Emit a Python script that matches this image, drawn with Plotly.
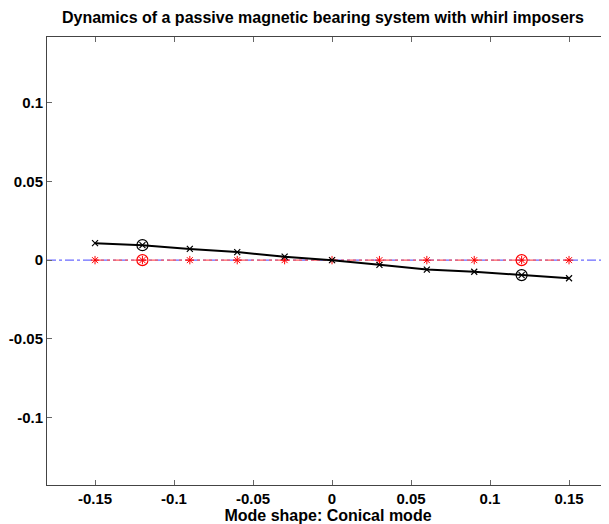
import plotly.graph_objects as go

x_nodes = [-0.15, -0.12, -0.09, -0.06, -0.03, 0.0, 0.03, 0.06, 0.09, 0.12, 0.15]
y_mode = [0.0108, 0.0095, 0.0071, 0.0051, 0.0022, 0.0, -0.0030, -0.0060, -0.0074, -0.0095, -0.0115]
y_ref = [0.0] * len(x_nodes)
x_bearing = [-0.12, 0.12]
y_bearing_mode = [0.0095, -0.0095]
y_bearing_ref = [0.0, 0.0]
x_axis_line = [-0.1804, 0.1753]
y_axis_line = [0.0, 0.0]

xticks = [-0.15, -0.1, -0.05, 0, 0.05, 0.1, 0.15]
xticklabels = ["-0.15", "-0.1", "-0.05", "0", "0.05", "0.1", "0.15"]
yticks = [-0.1, -0.05, 0, 0.05, 0.1]
yticklabels = ["-0.1", "-0.05", "0", "0.05", "0.1"]

fig = go.Figure()
fig.add_trace(go.Scatter(x=x_axis_line, y=y_axis_line, mode="lines",
                         line=dict(color="#6a6aff", width=1.2, dash="dashdot")))
fig.add_trace(go.Scatter(x=x_nodes, y=y_ref, mode="lines+markers",
                         line=dict(color="#ff5a5a", width=1.2, dash="dashdot"),
                         marker=dict(symbol="asterisk-open", size=7, color="red",
                                     line=dict(color="red", width=1))))
fig.add_trace(go.Scatter(x=x_bearing, y=y_bearing_ref, mode="markers",
                         marker=dict(symbol="circle-open", size=11, color="red",
                                     line=dict(color="red", width=1.2))))
fig.add_trace(go.Scatter(x=x_nodes, y=y_mode, mode="lines+markers",
                         line=dict(color="black", width=2),
                         marker=dict(symbol="x-thin-open", size=6, color="black",
                                     line=dict(color="black", width=1.2))))
fig.add_trace(go.Scatter(x=x_bearing, y=y_bearing_mode, mode="markers",
                         marker=dict(symbol="circle-open", size=11, color="black",
                                     line=dict(color="black", width=1.2))))

font_family = "Liberation Sans, Arial, sans-serif"
# page has an 8px body margin: figure is 601x516 placed at (8, 8)
fig.update_layout(
    width=601, height=516,
    margin=dict(l=39, r=0, t=29, b=39, autoexpand=False),
    paper_bgcolor="white", plot_bgcolor="white",
    showlegend=False,
    font=dict(family=font_family, color="black"),
    title=dict(text="<b>Dynamics of a passive magnetic bearing system with whirl imposers</b>",
               x=0.524, xanchor="center", y=0.981, yanchor="middle",
               font=dict(size=16, family=font_family, color="black")),
)
fig.update_xaxes(range=x_axis_line, tickvals=xticks,
                 ticktext=["<b>%s</b>" % t for t in xticklabels],
                 ticks="inside", ticklen=5, tickcolor="#666", tickwidth=1,
                 showline=True, linecolor="#444", linewidth=1, mirror="ticks",
                 showgrid=False, zeroline=False, automargin=False,
                 tickfont=dict(size=15, family=font_family, color="black"),
                 title=dict(text="<b>Mode shape: Conical mode</b>", standoff=0,
                            font=dict(size=16, family=font_family, color="black")))
fig.update_yaxes(range=[-0.1428, 0.1417], tickvals=yticks,
                 ticktext=["<b>%s</b>" % t for t in yticklabels],
                 ticks="inside", ticklen=5, tickcolor="#666", tickwidth=1,
                 showline=True, linecolor="#444", linewidth=1,
                 showgrid=False, zeroline=False, automargin=False,
                 tickfont=dict(size=15, family=font_family, color="black"))

fig.write_html("out.html")
